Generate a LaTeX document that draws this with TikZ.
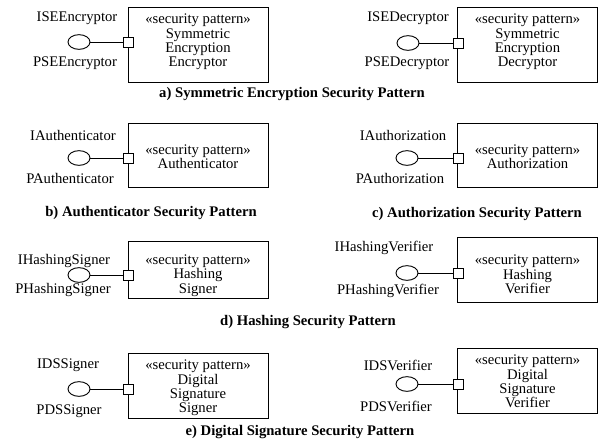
\documentclass[tikz,border=0pt]{standalone}
\usepackage{fontspec}
\setmainfont{Liberation Serif}
\usetikzlibrary{shapes.geometric}
\begin{document}
\begin{tikzpicture}[x=0.75pt,y=0.75pt,yscale=-1,xscale=1,
  comp/.style={draw, line width=0.7pt, minimum width=105pt, inner sep=0pt},
  port/.style={draw, line width=0.7pt, fill=white, minimum size=7.5pt, inner sep=0pt},
  iface/.style={draw, line width=0.7pt, ellipse, minimum width=16.5pt, minimum height=11pt, inner sep=0pt},
  lbl/.style={font=\fontsize{11}{13}\selectfont, inner sep=0pt},
  stereo/.style={align=center, font=\fontsize{11}{10.7}\selectfont, inner sep=0pt},
  capt/.style={font=\fontsize{11}{13}\selectfont\bfseries, inner sep=0pt}]
\path[use as bounding box] (0,0) rectangle (600,443);

%Shape: Rectangle [Symmetric Encryption Encryptor]
\node [comp, minimum height=56.25pt] (encBox) at (198,44.5) {};
\node [stereo] (encTxt) at (198,42) {«security pattern»\\Symmetric\\Encryption\\Encryptor};
\node [port] (encPort) at (128,42) {};
\node [iface] (encIf) at (79,42) {};
\draw [line width=0.7pt] (encIf) -- (encPort);
% Text Node
\node [lbl] (encI) at (77,18) {ISEEncryptor};
\node [lbl] (encP) at (75,63) {PSEEncryptor};

%Shape: Rectangle [Symmetric Encryption Decryptor]
\node [comp, minimum height=56.25pt] (decBox) at (527.5,44.5) {};
\node [stereo] (decTxt) at (527.5,42) {«security pattern»\\Symmetric\\Encryption\\Decryptor};
\node [port] (decPort) at (458,43) {};
\node [iface] (decIf) at (408,43) {};
\draw [line width=0.7pt] (decIf) -- (decPort);
% Text Node
\node [lbl] (decI) at (408,18) {ISEDecryptor};
\node [lbl] (decP) at (407,63) {PSEDecryptor};

% Text Node
\node [capt] (captA) at (292,94) {a) Symmetric Encryption Security Pattern};

%Shape: Rectangle [Authenticator]
\node [comp, minimum height=48pt] (authBox) at (198,155) {};
\node [stereo] (authTxt) at (198,157) {«security pattern»\\Authenticator};
\node [port] (authPort) at (128,158) {};
\node [iface] (authIf) at (79,158) {};
\draw [line width=0.7pt] (authIf) -- (authPort);
% Text Node
\node [lbl] (authI) at (73,135) {IAuthenticator};
\node [lbl] (authP) at (70,178) {PAuthenticator};
\node [capt] (captB) at (151,213) {b) Authenticator Security Pattern};

%Shape: Rectangle [Authorization]
\node [comp, minimum height=48pt] (authzBox) at (527.5,155) {};
\node [stereo] (authzTxt) at (527.5,157) {«security pattern»\\Authorization};
\node [port] (authzPort) at (458,158) {};
\node [iface] (authzIf) at (407,158) {};
\draw [line width=0.7pt] (authzIf) -- (authzPort);
% Text Node
\node [lbl] (authzI) at (403,135) {IAuthorization};
\node [lbl] (authzP) at (400,178) {PAuthorization};
\node [capt] (captC) at (477,214) {c) Authorization Security Pattern};

%Shape: Rectangle [Hashing Signer]
\node [comp, minimum height=42.75pt] (hsBox) at (198,270) {};
\node [stereo] (hsTxt) at (198,275.5) {«security pattern»\\Hashing\\Signer};
\node [port] (hsPort) at (128,275) {};
\node [iface] (hsIf) at (79,275) {};
\draw [line width=0.7pt] (hsIf) -- (hsPort);
% Text Node
\node [lbl] (hsI) at (64,261) {IHashingSigner};
\node [lbl] (hsP) at (63,289.5) {PHashingSigner};

%Shape: Rectangle [Hashing Verifier]
\node [comp, minimum height=48.75pt] (hvBox) at (527.5,269.5) {};
\node [stereo] (hvTxt) at (527.5,274.5) {«security pattern»\\Hashing\\Verifier};
\node [port] (hvPort) at (458,273) {};
\node [iface] (hvIf) at (407,273) {};
\draw [line width=0.7pt] (hvIf) -- (hvPort);
% Text Node
\node [lbl] (hvI) at (384,248) {IHashingVerifier};
\node [lbl] (hvP) at (388,291) {PHashingVerifier};

% Text Node
\node [capt] (captD) at (308,322) {d) Hashing Security Pattern};

%Shape: Rectangle [Digital Signature Signer]
\node [comp, minimum height=48.75pt] (dsBox) at (198,385.5) {};
\node [stereo] (dsTxt) at (198,388) {«security pattern»\\Digital\\Signature\\Signer};
\node [port] (dsPort) at (128,389) {};
\node [iface] (dsIf) at (79,389) {};
\draw [line width=0.7pt] (dsIf) -- (dsPort);
% Text Node
\node [lbl] (dsI) at (68,365) {IDSSigner};
\node [lbl] (dsP) at (69,411) {PDSSigner};

%Shape: Rectangle [Digital Signature Verifier]
\node [comp, minimum height=48.75pt] (dvBox) at (527.5,380.5) {};
\node [stereo] (dvTxt) at (527.5,381.5) {«security pattern»\\Digital\\Signature\\Verifier};
\node [port] (dvPort) at (458,384) {};
\node [iface] (dvIf) at (407,384) {};
\draw [line width=0.7pt] (dvIf) -- (dvPort);
% Text Node
\node [lbl] (dvI) at (398,365) {IDSVerifier};
\node [lbl] (dvP) at (396,406) {PDSVerifier};

% Text Node
\node [capt] (captE) at (300,432) {e) Digital Signature Security Pattern};

\end{tikzpicture}
\end{document}
